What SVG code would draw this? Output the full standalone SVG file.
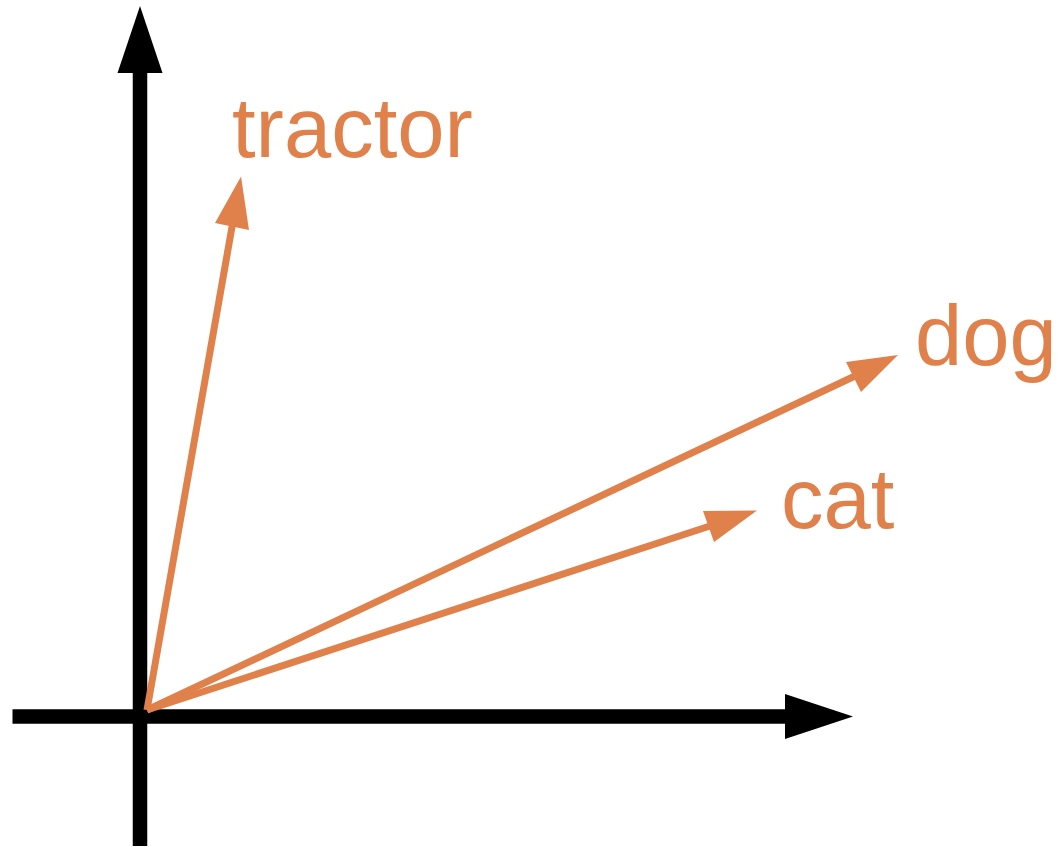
<svg xmlns="http://www.w3.org/2000/svg" width="1061" height="847" viewBox="0 0 1061 847">
<style>
.axis{stroke:#000;stroke-width:14.5;fill:none}
.ahead{fill:#000}
.vec{stroke:#E0804A;stroke-width:7;fill:none}
.vhead{fill:#E0804A}
.lbl{font-family:"Liberation Sans",Arial,sans-serif;font-size:85px;fill:#E0804A}
</style>
<rect width="1061" height="847" fill="#fff"/>
<g id="axes">
<line class="axis" x1="140" y1="846" x2="140" y2="70"/>
<polygon class="ahead" points="140,6 162.5,73 117.5,73"/>
<line class="axis" x1="12.5" y1="716.5" x2="788" y2="716.5"/>
<polygon class="ahead" points="853,716.5 785,694 785,739"/>
</g>
<g id="connectors">
<line class="vec" x1="147" y1="710" x2="232.5" y2="224"/>
<polygon class="vhead" points="241,176.5 249,230 215,223"/>
<line class="vec" x1="147" y1="710" x2="855" y2="376"/>
<polygon class="vhead" points="898,355 861,392 846,362"/>
<line class="vec" x1="147" y1="710" x2="710" y2="526"/>
<polygon class="vhead" points="757,510.5 714,542 703,511"/>
</g>
<g id="tractor"><text class="lbl" x="232" y="157">tractor</text></g>
<g id="dog"><text class="lbl" x="915" y="365">dog</text></g>
<g id="cat"><text class="lbl" x="781" y="528">cat</text></g>
</svg>
